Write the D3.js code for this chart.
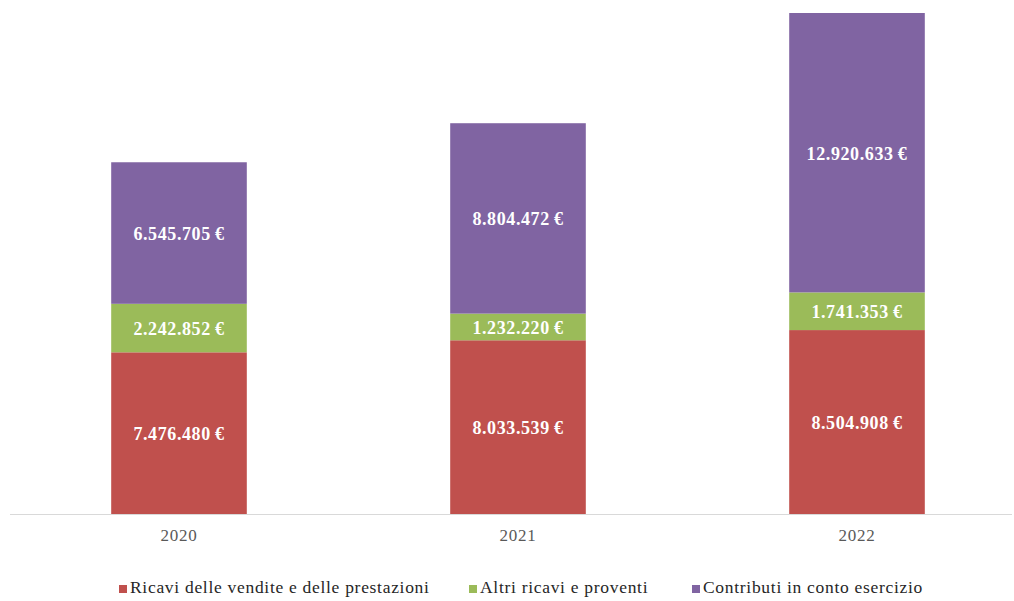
<!DOCTYPE html>
<html>
<head>
<meta charset="utf-8">
<script src="https://cdn.jsdelivr.net/npm/d3@7"></script>
<style>
  body { margin: 0; background: #fff; }
  svg text { font-family: "Liberation Serif", "Times New Roman", serif; }
</style>
</head>
<body>
<div id="svgDiv"></div>
<script>
var w = 1014;
var h = 601;

var years = ["2020", "2021", "2022"];
var series = ["Ricavi delle vendite e delle prestazioni", "Altri ricavi e proventi", "Contributi in conto esercizio"];
var ricavi = [7476480, 8033539, 8504908];
var altri = [2242852, 1232220, 1741353];
var contributi = [6545705, 8804472, 12920633];
var colors = ["#C0504D", "#9BBB59", "#8064A2"];

var rows = years.map(function (y, i) {
	return { year: y, s0: ricavi[i], s1: altri[i], s2: contributi[i] };
});

var svg = d3.select("#svgDiv")
	.append("svg")
	.attr("width", w)
	.attr("height", h);

var x = d3.scaleBand()
	.domain(years)
	.range([9.5, 1026.5])
	.paddingInner(0.6)
	.paddingOuter(0.3);

var y = d3.scaleLinear()
	.domain([0, 23166894])
	.range([514, 13]);

var stack = d3.stack().keys(["s0", "s1", "s2"]);
var stacked = stack(rows);

var it = d3.formatLocale({ decimal: ",", thousands: ".", grouping: [3], currency: ["", "€"] });
var fmt = it.format(",d");

var layers = svg.selectAll(".layer")
	.data(stacked)
	.enter()
	.append("g")
	.attr("class", "layer")
	.style("fill", function (d, i) { return colors[i]; });

layers.selectAll("rect")
	.data(function (d) { return d; })
	.enter()
	.append("rect")
	.attr("x", function (d) { return x(d.data.year); })
	.attr("width", x.bandwidth())
	.attr("y", function (d) { return y(d[1]); })
	.attr("height", function (d) { return y(d[0]) - y(d[1]); });

layers.selectAll("text")
	.data(function (d) { return d; })
	.enter()
	.append("text")
	.attr("x", function (d) { return x(d.data.year) + x.bandwidth() / 2; })
	.attr("y", function (d) { return (y(d[0]) + y(d[1])) / 2 + 1; })
	.attr("text-anchor", "middle")
	.attr("dominant-baseline", "central")
	.style("fill", "#fff")
	.style("font-weight", "bold")
	.style("font-size", "18px")
	.style("letter-spacing", "0.6px")
	.text(function (d) { return fmt(d[1] - d[0]) + "\u2009€"; });

// baseline
svg.append("line")
	.attr("x1", 10).attr("x2", 1012)
	.attr("y1", 514.5).attr("y2", 514.5)
	.style("stroke", "#d9d9d9")
	.style("stroke-width", 1);

var xAxis = svg.append("g")
	.attr("transform", "translate(0,514)")
	.call(d3.axisBottom(x).tickSize(0).tickPadding(15));
xAxis.select(".domain").remove();
xAxis.selectAll("text")
	.style("font-family", "Liberation Serif, serif")
	.style("font-size", "17px")
	.style("letter-spacing", "0.8px")
	.style("fill", "#595959");

// legend
var legendX = [119, 469, 692];
var legend = svg.selectAll(".leg")
	.data(series)
	.enter()
	.append("g")
	.attr("class", "leg")
	.attr("transform", function (d, i) { return "translate(" + legendX[i] + ",593)"; });

legend.append("rect")
	.attr("x", 0).attr("y", -8)
	.attr("width", 8).attr("height", 8)
	.style("fill", function (d, i) { return colors[i]; });

legend.append("text")
	.attr("x", 11)
	.attr("y", 0)
	.style("font-size", "17.5px")
	.style("letter-spacing", "0.7px")
	.style("fill", "#262626")
	.text(function (d) { return d; });
</script>
</body>
</html>
